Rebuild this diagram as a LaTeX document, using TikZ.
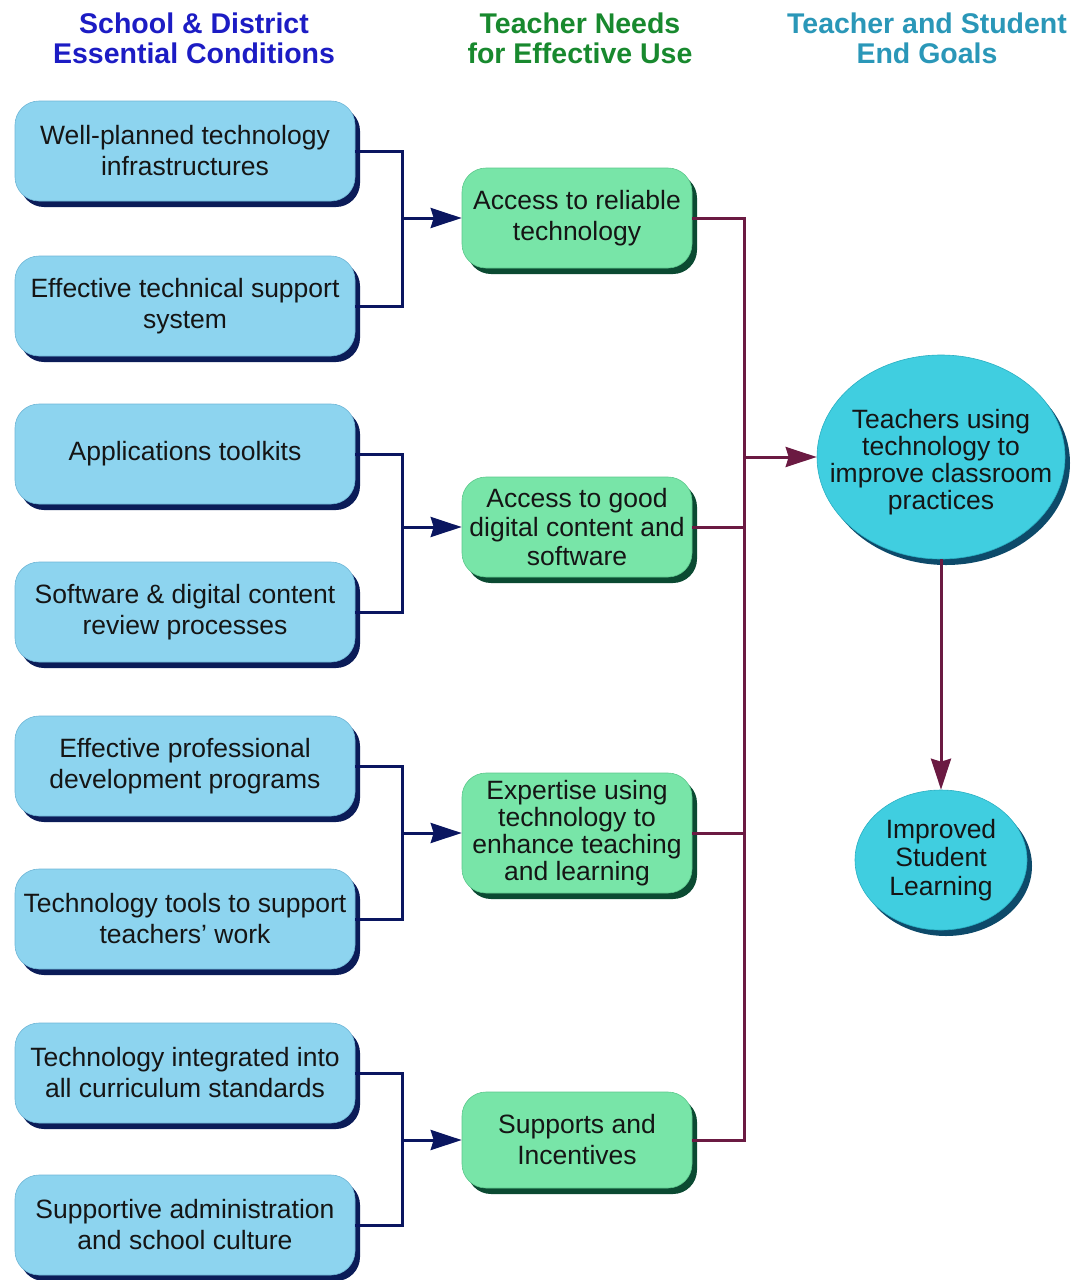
\documentclass[tikz,border=0pt]{standalone}
\usepackage{fontspec}
\setmainfont{Liberation Sans}
\usetikzlibrary{shapes.geometric,shadows,arrows.meta}
\definecolor{lfill}{HTML}{8DD4EF}
\definecolor{ledge}{HTML}{6FB6D6}
\definecolor{lshadow}{HTML}{0B1C58}
\definecolor{gfill}{HTML}{78E5A8}
\definecolor{gedge}{HTML}{5CC88C}
\definecolor{gshadow}{HTML}{0B4A32}
\definecolor{efill}{HTML}{40CEE0}
\definecolor{eedge}{HTML}{2AAFC2}
\definecolor{eshadow}{HTML}{0D4A6A}
\definecolor{bline}{HTML}{0A1660}
\definecolor{mline}{HTML}{6B1A42}
\definecolor{hblue}{HTML}{1C1CC4}
\definecolor{hgreen}{HTML}{18892E}
\definecolor{hteal}{HTML}{2A97B8}
\definecolor{txt}{HTML}{151515}
\begin{document}
\begin{tikzpicture}[x=1pt,y=-1pt,
  body/.style={font={\fontsize{26.5}{31}\selectfont}, text=txt, align=center, inner sep=0pt},
  lbox/.style={body, rectangle, rounded corners=24pt, fill=lfill, draw=ledge, line width=0.6pt,
    minimum width=340pt, minimum height=100pt,
    drop shadow={shadow xshift=5pt, shadow yshift=-6pt, fill=lshadow, opacity=1}},
  gbox/.style={body, rectangle, rounded corners=24pt, fill=gfill, draw=gedge, line width=0.6pt,
    minimum width=230pt, minimum height=100pt,
    drop shadow={shadow xshift=5pt, shadow yshift=-6pt, fill=gshadow, opacity=1}},
  egoal/.style={ellipse, fill=efill, draw=eedge, line width=0.6pt, inner sep=0pt,
    drop shadow={shadow xshift=5pt, shadow yshift=-6pt, fill=eshadow, opacity=1}},
  head/.style={font={\bfseries\fontsize{28.5}{30}\selectfont}, align=center, inner sep=0pt},
  bconn/.style={draw=bline, line width=3pt},
  barrow/.style={bconn, -{Stealth[length=31pt,width=20pt,inset=3pt]}},
  mconn/.style={draw=mline, line width=3pt},
  marrow/.style={mconn, -{Stealth[length=31pt,width=20pt,inset=3pt]}}
]
\useasboundingbox (0,0) rectangle (1075,1280);

% headers
\node[head, text=hblue] (h1) at (194,38) {School \& District\\Essential Conditions};
\node[head, text=hgreen] (h2) at (580,38) {Teacher Needs\\for Effective Use};
\node[head, text=hteal] (h3) at (927,38) {Teacher and Student\\End Goals};

% left column
\node[lbox] (b1) at (185,151) {Well-planned technology\\infrastructures};
\node[lbox] (b2) at (185,306) {Effective technical support\\system};
\node[lbox] (b3) at (185,454) {Applications toolkits};
\node[lbox] (b4) at (185,612) {Software \& digital content\\review processes};
\node[lbox] (b5) at (185,766) {Effective professional\\development programs};
\node[lbox] (b6) at (185,919) {Technology tools to support\\teachers' work};
\node[lbox] (b7) at (185,1073) {Technology integrated into\\all curriculum standards};
\node[lbox] (b8) at (185,1225) {Supportive administration\\and school culture};

% middle column
\node[gbox] (g1) at (577,218) {Access to reliable\\technology};
\node[gbox, font={\fontsize{26.5}{29}\selectfont}] (g2) at (577,527) {Access to good\\digital content and\\software};
\node[gbox, minimum height=120pt, font={\fontsize{26.5}{27}\selectfont}] (g3) at (577,833) {Expertise using\\technology to\\enhance teaching\\and learning};
\node[gbox, minimum height=96pt] (g4) at (577,1140) {Supports and\\Incentives};

% right column
\node[egoal, minimum width=248pt, minimum height=204pt,
  label={[body, yshift=-5pt, font={\fontsize{26.5}{27}\selectfont}]center:{Teachers using\\technology to\\improve classroom\\practices}}] (e1) at (941,457) {};
\node[egoal, minimum width=172pt, minimum height=140pt,
  label={[body, font={\fontsize{26.5}{28.5}\selectfont}]center:{Improved\\Student\\Learning}}] (e2) at (941,860) {};

% junction coordinates
\coordinate (j1) at (402,218);
\coordinate (j2) at (402,527);
\coordinate (j3) at (402,833);
\coordinate (j4) at (402,1140);
\coordinate (m) at (744,457);

% blue connectors
\draw[bconn] (b1.east) -| (j1);
\draw[bconn] (b2.east) -| (j1);
\draw[barrow] (j1) -- (g1.west);
\draw[bconn] (b3.east) -| (j2);
\draw[bconn] (b4.east) -| (j2);
\draw[barrow] (j2) -- (g2.west);
\draw[bconn] (b5.east) -| (j3);
\draw[bconn] (b6.east) -| (j3);
\draw[barrow] (j3) -- (g3.west);
\draw[bconn] (b7.east) -| (j4);
\draw[bconn] (b8.east) -| (j4);
\draw[barrow] (j4) -- (g4.west);

% maroon connectors
\draw[mconn] (g1.east) -| (m);
\draw[mconn] (g2.east) -| (m);
\draw[mconn] (g3.east) -| (m);
\draw[mconn] (g4.east) -| (m);
\draw[marrow] (m) -- (e1.west);
\draw[marrow] (e1.south) -- (e2.north);
\end{tikzpicture}
\end{document}
